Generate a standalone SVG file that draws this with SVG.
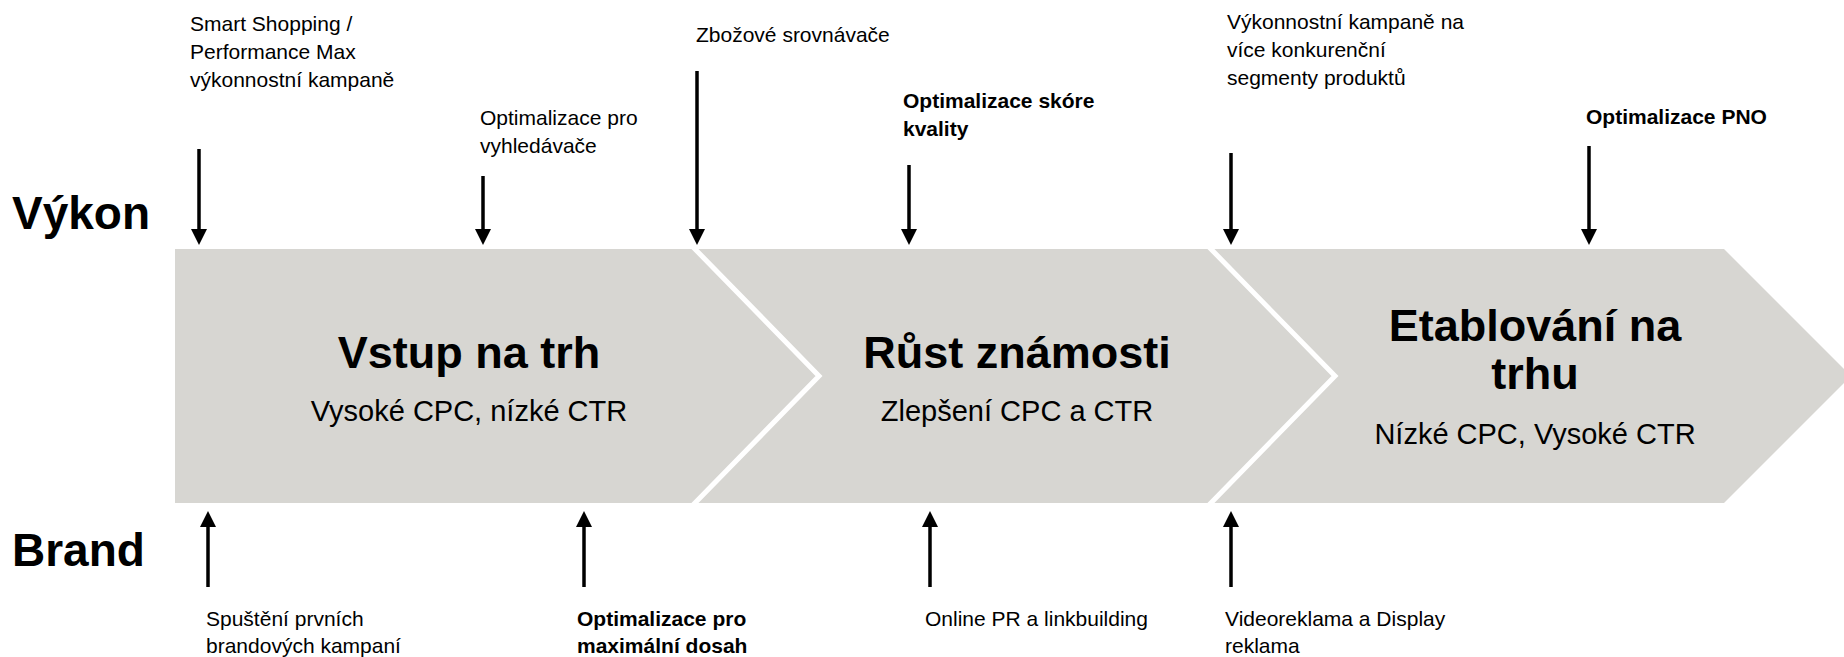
<svg xmlns="http://www.w3.org/2000/svg" width="1844" height="657" viewBox="0 0 1844 657">
<style>
.lbl{font-family:"Liberation Sans",Arial,sans-serif;font-size:21px;fill:#000}
.b{font-weight:bold}
.side{font-family:"Liberation Sans",Arial,sans-serif;font-size:46px;font-weight:bold;fill:#000}
.title{font-family:"Liberation Sans",Arial,sans-serif;font-size:45px;font-weight:bold;fill:#000;text-anchor:middle}
.sub{font-family:"Liberation Sans",Arial,sans-serif;font-size:29px;fill:#000;text-anchor:middle}
.arr{stroke:#000;stroke-width:3.5;fill:none;marker-end:url(#ah)}
.sep{stroke:#fff;stroke-width:5;fill:none}
</style>
<defs>
<marker id="ah" viewBox="0 0 16 16" refX="2" refY="8" markerWidth="16" markerHeight="16" markerUnits="userSpaceOnUse" orient="auto">
<path d="M0,0 L16,8 L0,16 z" fill="#000"/>
</marker>
</defs>
<rect width="1844" height="657" fill="#fff"/>
<g id="axis-labels">
<text class="side" x="12" y="229">Výkon</text>
<text class="side" x="12" y="566">Brand</text>
</g>
<g id="band">
<path d="M175,249 H1724 L1851,376 L1724,503 H175 Z" fill="#D7D6D2"/>
<polyline class="sep" points="692,246 819,376 692,506"/>
<polyline class="sep" points="1208,246 1335,376 1208,506"/>
</g>
<g id="stage1">
<text class="title" x="469" y="368">Vstup na trh</text>
<text class="sub" x="469" y="421">Vysoké CPC, nízké CTR</text>
</g>
<g id="stage2">
<text class="title" x="1017" y="368">Růst známosti</text>
<text class="sub" x="1017" y="421">Zlepšení CPC a CTR</text>
</g>
<g id="stage3">
<text class="title" x="1535" y="341">Etablování na</text>
<text class="title" x="1535" y="389">trhu</text>
<text class="sub" x="1535" y="444">Nízké CPC, Vysoké CTR</text>
</g>
<g id="connectors">
<line class="arr" x1="199" y1="149" x2="199" y2="231"/>
<line class="arr" x1="483" y1="176" x2="483" y2="231"/>
<line class="arr" x1="697" y1="71" x2="697" y2="231"/>
<line class="arr" x1="909" y1="165" x2="909" y2="231"/>
<line class="arr" x1="1231" y1="153" x2="1231" y2="231"/>
<line class="arr" x1="1589" y1="146" x2="1589" y2="231"/>
<line class="arr" x1="208" y1="587" x2="208" y2="525"/>
<line class="arr" x1="584" y1="587" x2="584" y2="525"/>
<line class="arr" x1="930" y1="587" x2="930" y2="525"/>
<line class="arr" x1="1231" y1="587" x2="1231" y2="525"/>
</g>
<g id="t1"><text class="lbl" x="190" y="31">Smart Shopping /</text><text class="lbl" x="190" y="59">Performance Max</text><text class="lbl" x="190" y="87">výkonnostní kampaně</text></g>
<g id="t2"><text class="lbl" x="480" y="125">Optimalizace pro</text><text class="lbl" x="480" y="153">vyhledávače</text></g>
<g id="t3"><text class="lbl" x="696" y="42">Zbožové srovnávače</text></g>
<g id="t4"><text class="lbl b" x="903" y="108">Optimalizace skóre</text><text class="lbl b" x="903" y="136">kvality</text></g>
<g id="t5"><text class="lbl" x="1227" y="29">Výkonnostní kampaně na</text><text class="lbl" x="1227" y="57">více konkurenční</text><text class="lbl" x="1227" y="85">segmenty produktů</text></g>
<g id="t6"><text class="lbl b" x="1586" y="124">Optimalizace PNO</text></g>
<g id="b1"><text class="lbl" x="206" y="626">Spuštění prvních</text><text class="lbl" x="206" y="653">brandových kampaní</text></g>
<g id="b2"><text class="lbl b" x="577" y="626">Optimalizace pro</text><text class="lbl b" x="577" y="653">maximální dosah</text></g>
<g id="b3"><text class="lbl" x="925" y="626">Online PR a linkbuilding</text></g>
<g id="b4"><text class="lbl" x="1225" y="626">Videoreklama a Display</text><text class="lbl" x="1225" y="653">reklama</text></g>
</svg>
